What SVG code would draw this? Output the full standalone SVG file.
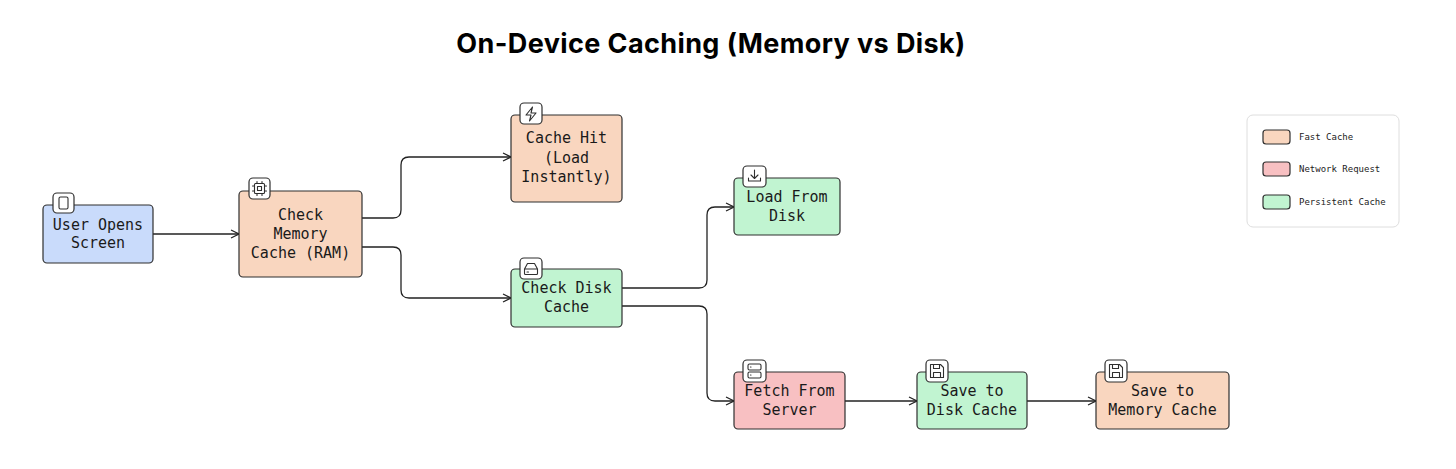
<svg xmlns="http://www.w3.org/2000/svg" width="1456" height="469" viewBox="0 0 1456 469">
<defs>
<style>
.node{stroke:#2f2f2f;stroke-width:1.2}
.blue{fill:#c9dbfb}
.orange{fill:#f9d6bf}
.green{fill:#c1f4d1}
.red{fill:#f8c0c2}
.lbl{font-family:"DejaVu Sans Mono","Liberation Mono",monospace;font-size:15px;fill:#1a1a1a;text-anchor:middle}
.ibox{fill:#ffffff;stroke:#2f2f2f;stroke-width:1.2}
.ic{fill:none;stroke:#2f2f2f;stroke-width:1.1;stroke-linecap:round;stroke-linejoin:round}
.conn{fill:none;stroke:#222;stroke-width:1.3;marker-end:url(#arr)}
.leg{font-family:"DejaVu Sans Mono","Liberation Mono",monospace;font-size:9px;fill:#222}
</style>
<marker id="arr" viewBox="0 0 10 10" refX="9" refY="5" markerWidth="10" markerHeight="10" markerUnits="userSpaceOnUse" orient="auto">
<path d="M1,1 L9,5 L1,9" fill="none" stroke="#222" stroke-width="1.2"/>
</marker>
</defs>
<rect width="1456" height="469" fill="#ffffff"/>
<text x="711" y="53" text-anchor="middle" font-family="Inter,'Liberation Sans',sans-serif" font-weight="700" font-size="27" letter-spacing="0.4" fill="#000">On-Device Caching (Memory vs Disk)</text>

<g id="connectors">
<path class="conn" d="M153,234 L239,234"/>
<path class="conn" d="M362,218 L393,218 Q401,218 401,210 L401,165 Q401,157 409,157 L511,157"/>
<path class="conn" d="M362,247 L393,247 Q401,247 401,255 L401,290 Q401,298 409,298 L511,298"/>
<path class="conn" d="M622,288 L699,288 Q707,288 707,280 L707,215 Q707,207 715,207 L734,207"/>
<path class="conn" d="M622,306 L699,306 Q707,306 707,314 L707,393 Q707,401 715,401 L734,401"/>
<path class="conn" d="M845,401 L917,401"/>
<path class="conn" d="M1027,401 L1096,401"/>
</g>

<g id="user-opens-screen">
<rect class="node blue" x="43" y="205" width="110" height="58" rx="4"/>
<rect class="ibox" x="53" y="193" width="21" height="20" rx="4"/>
<rect class="ic" x="59" y="197" width="9" height="12" rx="1.5"/>
<text class="lbl" x="98" y="230">User Opens</text>
<text class="lbl" x="98" y="248">Screen</text>
</g>

<g id="check-memory">
<rect class="node orange" x="239" y="191" width="123" height="86" rx="4"/>
<rect class="ibox" x="249" y="178" width="21" height="21" rx="4"/>
<rect class="ic" x="254.5" y="183.5" width="10" height="10" rx="1"/>
<rect class="ic" x="257.5" y="186.5" width="4" height="4"/>
<path class="ic" d="M257,181.5v2M262,181.5v2M257,193.5v2M262,193.5v2M252.5,186h2M252.5,191h2M264.5,186h2M264.5,191h2"/>
<text class="lbl" x="300.5" y="220">Check</text>
<text class="lbl" x="300.5" y="239">Memory</text>
<text class="lbl" x="300.5" y="258">Cache (RAM)</text>
</g>

<g id="cache-hit">
<rect class="node orange" x="511" y="115" width="111" height="87" rx="4"/>
<rect class="ibox" x="520" y="103" width="22" height="21" rx="4"/>
<path class="ic" d="M532.5,107 L526,115 L531,115 L529.5,121 L536,113 L531,113 Z"/>
<text class="lbl" x="566.5" y="143">Cache Hit</text>
<text class="lbl" x="566.5" y="163">(Load</text>
<text class="lbl" x="566.5" y="182">Instantly)</text>
</g>

<g id="load-from-disk">
<rect class="node green" x="734" y="178" width="106" height="57" rx="4"/>
<rect class="ibox" x="743" y="166" width="23" height="21" rx="4"/>
<path class="ic" d="M754.5,170v8M751,175l3.5,3.5 3.5,-3.5M748.5,178v3h12v-3"/>
<text class="lbl" x="787" y="202">Load From</text>
<text class="lbl" x="787" y="221">Disk</text>
</g>

<g id="check-disk-cache">
<rect class="node green" x="511" y="269" width="111" height="58" rx="4"/>
<rect class="ibox" x="520" y="258" width="22" height="21" rx="4"/>
<path class="ic" d="M524.5,269 L527.5,263.5 L534.5,263.5 L537.5,269 L537.5,273.5 Q537.5,274.5 536.5,274.5 L525.5,274.5 Q524.5,274.5 524.5,273.5 Z M524.5,269 H537.5 M527,272 h1.5"/>
<text class="lbl" x="566.5" y="293">Check Disk</text>
<text class="lbl" x="566.5" y="312">Cache</text>
</g>

<g id="fetch-from-server">
<rect class="node red" x="734" y="372" width="111" height="57" rx="4"/>
<rect class="ibox" x="743" y="360" width="23" height="22" rx="4"/>
<rect class="ic" x="748" y="364" width="13" height="6" rx="1.5"/>
<rect class="ic" x="748" y="372" width="13" height="6" rx="1.5"/>
<path class="ic" d="M750.5,367h.5M750.5,375h.5"/>
<text class="lbl" x="789.5" y="396">Fetch From</text>
<text class="lbl" x="789.5" y="415">Server</text>
</g>

<g id="save-to-disk-cache">
<rect class="node green" x="917" y="372" width="110" height="57" rx="4"/>
<rect class="ibox" x="926" y="360" width="22" height="22" rx="4"/>
<path class="ic" d="M930.5,364.5 h10 l3,3 v10 h-13 Z M933.5,364.5 v4 h6 v-4 M933.5,377.5 v-5 h7 v5"/>
<text class="lbl" x="972" y="396">Save to</text>
<text class="lbl" x="972" y="415">Disk Cache</text>
</g>

<g id="save-to-memory-cache">
<rect class="node orange" x="1096" y="372" width="133" height="57" rx="4"/>
<rect class="ibox" x="1105" y="360" width="22" height="22" rx="4"/>
<path class="ic" d="M1109.5,364.5 h10 l3,3 v10 h-13 Z M1112.5,364.5 v4 h6 v-4 M1112.5,377.5 v-5 h7 v5"/>
<text class="lbl" x="1162.5" y="396">Save to</text>
<text class="lbl" x="1162.5" y="415">Memory Cache</text>
</g>

<g id="legend">
<rect x="1247" y="115" width="152" height="112" rx="6" fill="#ffffff" stroke="#dedede" stroke-width="1"/>
<rect class="node orange" x="1263" y="130" width="27" height="14" rx="3"/>
<text class="leg" x="1299" y="140">Fast Cache</text>
<rect class="node red" x="1263" y="162" width="27" height="14" rx="3"/>
<text class="leg" x="1299" y="172">Network Request</text>
<rect class="node green" x="1263" y="195" width="27" height="14" rx="3"/>
<text class="leg" x="1299" y="205">Persistent Cache</text>
</g>
</svg>
